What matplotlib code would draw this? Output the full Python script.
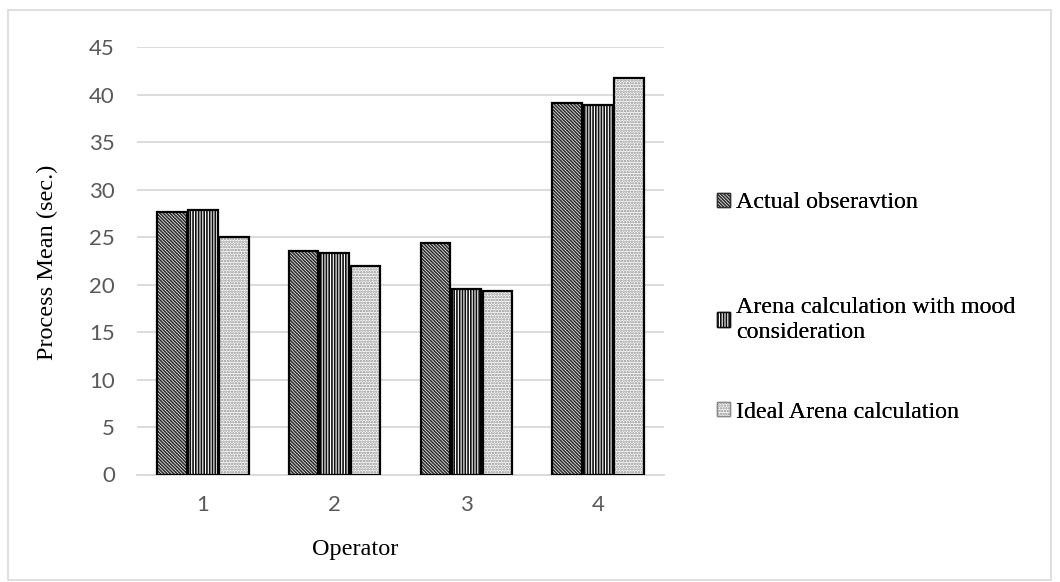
import matplotlib

matplotlib.use("Agg")

import matplotlib.pyplot as plt
import numpy as np
from matplotlib.patches import Patch, Rectangle

# values
operators = ["1", "2", "3", "4"]
series_names = [
    "Actual obseravtion",
    "Arena calculation with mood\nconsideration",
    "Ideal Arena calculation",
]
actual_obs = [27.6, 23.5, 24.4, 39.1]
arena_mood = [27.9, 23.3, 19.5, 38.9]
ideal_arena = [25.0, 22.0, 19.3, 41.8]
y_ticks = [0, 5, 10, 15, 20, 25, 30, 35, 40, 45]

SERIF = ["Liberation Serif", "DejaVu Serif"]
TICK_FONT = ["Lato", "DejaVu Sans"]

styles = [
    {"hatch": "\\\\\\\\\\\\\\\\\\\\", "color": "#2e2e2e"},
    {"hatch": "||||||", "color": "#111111"},
    {"hatch": "......", "color": "#8a8a8a"},
]
# vertical centre (px from top) of each legend entry, Excel spaces them unevenly
legend_y = [203, 320, 412]

plt.rcParams["hatch.linewidth"] = 1.2

fig = plt.figure(figsize=(10.6, 5.82), dpi=100)
ax = fig.add_axes([137 / 1060, 1 - 474.5 / 582, (664 - 137) / 1060, (474.5 - 47.3) / 582])

x = np.arange(len(operators))
width = 0.225
step = 0.235
handles = []
for i, (vals, st) in enumerate(zip([actual_obs, arena_mood, ideal_arena], styles)):
    pos = x + (i - 1) * step
    ax.bar(pos, vals, width, facecolor="white", edgecolor=st["color"], hatch=st["hatch"], linewidth=0, zorder=2)
    ax.bar(pos, vals, width, fill=False, edgecolor="black", linewidth=1.6, zorder=3)
    handles.append(Patch(facecolor="white", edgecolor=st["color"], hatch=st["hatch"], linewidth=1.0))

ax.set_xlim(-0.5, len(operators) - 0.5)
ax.set_ylim(0, 45)
ax.set_yticks(y_ticks)
ax.set_xticks(x)
ax.set_xticklabels(operators)
ax.yaxis.grid(True, color="#d9d9d9", linewidth=1.3, zorder=0)
ax.set_axisbelow(True)
for side in ["top", "right", "left"]:
    ax.spines[side].set_visible(False)
ax.spines["bottom"].set_color("#d9d9d9")
ax.spines["bottom"].set_linewidth(1.3)
ax.tick_params(axis="both", length=0, labelsize=16, labelcolor="#595959")
ax.tick_params(axis="y", pad=16)
ax.tick_params(axis="x", pad=15)
for lab in ax.get_xticklabels() + ax.get_yticklabels():
    lab.set_family(TICK_FONT)

fig.text(355 / 1060, 1 - 549 / 582, "Operator", family=SERIF, fontsize=17.5, ha="center", va="center")
fig.text(47 / 1060, 1 - 262 / 582, "Process Mean (sec.)", family=SERIF, fontsize=17.5,
         ha="center", va="center", rotation=90)

for handle, name, ypx in zip(handles, series_names, legend_y):
    leg = fig.legend(
        [handle],
        [name],
        loc="center left",
        bbox_to_anchor=(705 / 1060, 1 - ypx / 582),
        frameon=False,
        prop={"family": SERIF, "size": 17.3},
        handlelength=0.55,
        handleheight=0.55,
        handletextpad=0.25,
        borderpad=0,
    )
    fig.add_artist(leg)

fig.patches.append(Rectangle((8 / 1060, 2 / 582), 1043 / 1060, 570 / 582, transform=fig.transFigure,
                             fill=False, edgecolor="#d9d9d9", linewidth=1.2))

fig.savefig("out.png", dpi=100)
